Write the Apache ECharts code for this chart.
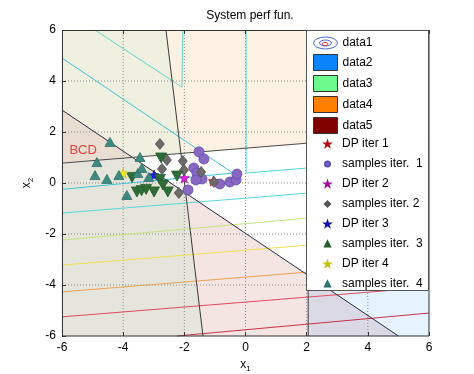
<!DOCTYPE html>
<html><head><meta charset="utf-8">
<script src="https://cdn.jsdelivr.net/npm/echarts@6/dist/echarts.min.js"></script>
<style>html,body{margin:0;padding:0;background:#fff}#c{width:474px;height:374px}</style>
</head><body><div id="c"></div>
<script>
// ---- axes ----
const xTicks = [-6, -4, -2, 0, 2, 4, 6];
const yTicks = [-6, -4, -2, 0, 2, 4, 6];

// ---- shaded regions (vertices in data units) ----
const regionTopLeft    = [[-6, 6], [-2.60, 6], [-2.11, 1.16], [-3.695, 1.005], [-6, 2.86]];
const regionBCD        = [[-6, 2.86], [-3.695, 1.005], [-6, 0.78]];
const regionLowerLeft  = [[-6, 0.78], [-3.695, 1.005], [-1.955, -0.40], [-1.39, -6], [-6, -6]];
const regionTopRight   = [[-2.60, 6], [6, 6], [6, 1.95], [-2.11, 1.16]];
const regionLowerRight = [[-1.955, -0.40], [5.0, -6], [-1.39, -6]];
const regionRightBand  = [[2.05, 6], [6, 6], [6, -6], [2.05, -6]];

// ---- region boundary lines ----
const boundaryA = [[-2.60, 6], [-1.39, -6]];
const boundaryB = [[-6, 2.86], [5.0, -6]];
const boundaryC = [[-6, 0.78], [6, 1.95]];
const boundaryD = [[2.05, 6], [2.05, -6]];

// ---- contour lines (data1) ----
const contourInner   = [[-6, 4.9], [-0.41, 0.39], [-6, -0.25]];
const contourTopLeft = [[-4.92, 6], [-2.08, 3.76], [-2.05, 6]];
const contourRight   = [[0.02, 6], [0.02, 0.39], [6, 0.98]];
const contourCyanLow = [[-6, -1.18], [6, -0.01]];
const contourGreen   = [[-6, -2.24], [6, -0.95]];
const contourYellow  = [[-6, -3.22], [6, -2.05]];
const contourOrange  = [[-6, -4.27], [6, -3.11]];
const contourRed     = [[-6, -5.25], [6, -4.09]];
const contourDarkRed = [[-2.24, -6], [6, -5.10]];

// ---- iterations ----
const dpIter1 = [[-1.05, 0.08]];
const samplesIter1 = [[-1.52, 1.22], [-1.36, 0.94], [-1.69, 0.59], [-1.59, 0.39], [-1.42, 0.16],
  [-1.62, 0.12], [-1.88, -0.27], [-0.84, -0.04], [-0.51, 0.04], [-0.31, 0.12], [-0.28, 0.35]];
const dpIter2 = [[-2.0, 0.2]];
const samplesIter2 = [[-2.80, 1.53], [-2.57, 0.90], [-2.73, 0.55], [-2.05, 0.86], [-2.01, 0.51],
  [-2.18, -0.39], [-1.45, 0.43], [-1.03, 0.04]];
const dpIter3 = [[-2.99, 0.31]];
const samplesIter3 = [[-2.76, 0.98], [-3.71, 0.22], [-3.55, -0.35], [-3.40, -0.30], [-3.25, -0.25],
  [-2.99, -0.35], [-2.80, 0.14], [-2.70, -0.08], [-2.54, -0.35], [-2.24, 0.27]];
const dpIter4 = [[-4.0, 0.38]];
const samplesIter4 = [[-4.43, 1.61], [-4.86, 0.82], [-4.92, 0.31], [-4.53, 0.16], [-4.14, 0.31],
  [-3.52, 0.39], [-3.39, 0.59], [-3.45, 1.02], [-3.88, -0.47], [-3.16, 0.24]];

const annotation = [[-5.31, 1.29]];
const annotationText = 'BCD';

// ------------------------------------------------------------------
const FONT = '"Liberation Sans", Arial, Helvetica, sans-serif';
const STAR = 'path://M0,-10L2.35,-3.24L9.51,-3.09L3.8,1.24L5.88,8.09L0,4L-5.88,8.09L-3.8,1.24L-9.51,-3.09L-2.35,-3.24Z';
const ELLIPSE = 'path://M0,6a12,6 0 1,0 24,0a12,6 0 1,0 -24,0z M6,6a6,3 0 1,0 12,0a6,3 0 1,0 -12,0z';
const xMin = xTicks[0], xMax = xTicks[xTicks.length - 1];
const yMin = yTicks[0], yMax = yTicks[yTicks.length - 1];

// grid lines built from the tick arrays
const gridLines = []
  .concat(xTicks.slice(1, -1).map(v => [[v, yMin], [v, yMax]]))
  .concat(yTicks.slice(1, -1).map(v => [[xMin, v], [xMax, v]]));

function polySeries(name, polys, fills, z) {
  return {
    type: 'custom', name, coordinateSystem: 'cartesian2d', z, silent: true, animation: false,
    data: polys.map((p, i) => [i, 0]),
    renderItem: (params, api) => {
      const i = api.value(0);
      return { type: 'polygon', shape: { points: polys[i].map(pt => api.coord(pt)) },
               style: { fill: fills[i], stroke: fills[i], lineWidth: 0.5 } };
    }
  };
}
function lineSeries(name, lines, colors, width, z, dash) {
  return {
    type: 'custom', name, coordinateSystem: 'cartesian2d', z, silent: true, animation: false,
    data: lines.map((p, i) => [i, 0]),
    renderItem: (params, api) => {
      const i = api.value(0);
      const st = { stroke: colors[i % colors.length], lineWidth: width, fill: null };
      if (dash) st.lineDash = dash;
      return { type: 'polyline', shape: { points: lines[i].map(pt => api.coord(pt)) }, style: st };
    }
  };
}
function scatter(name, data, symbol, size, color, border, rotate) {
  return {
    type: 'scatter', name, data, symbol, symbolSize: size, symbolRotate: rotate || 0, z: 4,
    itemStyle: { color, borderColor: border, borderWidth: 0.8, opacity: 1 },
    silent: true, animation: false
  };
}
const tickStyle = { show: true, inside: true, length: 4, lineStyle: { color: '#333' } };
const nameRich = (sub) => ({
  color: '#000', fontFamily: FONT,
  rich: { a: { fontSize: 12, fontFamily: FONT, color: '#000' },
          b: { fontSize: 8, fontFamily: FONT, color: '#000', padding: [8, 0, 0, 0] } }
});

const option = {
  animation: false,
  backgroundColor: '#fff',
  title: { text: 'System perf fun.', left: 245, top: 5, textAlign: 'center',
    textStyle: { fontFamily: FONT, fontSize: 12, fontWeight: 'normal', color: '#000' } },
  grid: { left: 62, right: 45, top: 30, bottom: 38, containLabel: false, outerBoundsMode: 'none', show: false },
  xAxis: [
    { type: 'value', z: 3, min: xMin, max: xMax, interval: xTicks[1] - xTicks[0], position: 'bottom',
      axisLine: { show: false, onZero: false }, axisTick: tickStyle,
      axisLabel: { color: '#000', fontSize: 12, margin: 6, fontFamily: FONT },
      splitLine: { show: false },
      name: '{a|x}{b|1}', nameLocation: 'middle', nameGap: 16, nameTextStyle: nameRich() },
    { type: 'value', z: 3, min: xMin, max: xMax, interval: xTicks[1] - xTicks[0], position: 'top',
      axisLine: { show: false, onZero: false }, axisTick: tickStyle,
      axisLabel: { show: false }, splitLine: { show: false } }
  ],
  yAxis: [
    { type: 'value', z: 3, min: yMin, max: yMax, interval: yTicks[1] - yTicks[0], position: 'left',
      axisLine: { show: false, onZero: false }, axisTick: tickStyle,
      axisLabel: { color: '#000', fontSize: 12, margin: 6, fontFamily: FONT },
      splitLine: { show: false },
      name: '{a|x}{b|2}', nameLocation: 'middle', nameGap: 22, nameRotate: 90, nameTextStyle: nameRich() }
  ],
  legend: [
    {
      orient: 'vertical', left: 313, top: 36, itemWidth: 24, itemHeight: 16, itemGap: 4, z: 6,
      selectedMode: false, padding: 0,
      textStyle: { fontFamily: FONT, fontSize: 12, color: '#000', lineHeight: 14 },
      data: [
        { name: 'data1', icon: ELLIPSE, itemStyle: { color: 'rgba(0,0,0,0)', borderColor: '#4a6ad0', borderWidth: 1 } },
        { name: 'data2', icon: 'rect', itemStyle: { color: '#0a84f8', borderColor: '#333', borderWidth: 1, opacity: 1 } },
        { name: 'data3', icon: 'rect', itemStyle: { color: '#6cfa8c', borderColor: '#333', borderWidth: 1, opacity: 1 } },
        { name: 'data4', icon: 'rect', itemStyle: { color: '#ff8000', borderColor: '#333', borderWidth: 1, opacity: 1 } },
        { name: 'data5', icon: 'rect', itemStyle: { color: '#800000', borderColor: '#333', borderWidth: 1, opacity: 1 } }
      ]
    },
    {
      orient: 'vertical', left: 324, top: 136, itemWidth: 5, itemHeight: 5, itemGap: 4, z: 6,
      selectedMode: false, padding: 0,
      textStyle: { fontFamily: FONT, fontSize: 12, color: '#000', lineHeight: 16, padding: [0, 0, 0, 7] },
      data: ['DP iter 1', 'samples iter.  1', 'DP iter 2', 'samples iter. 2', 'DP iter 3',
             'samples iter.  3', 'DP iter 4', 'samples iter.  4']
    }
  ],
  graphic: [
    { type: 'rect', z: 4, silent: true, shape: { x: 62.5, y: 30.5, width: 366.5, height: 305.5 },
      style: { fill: 'none', stroke: '#333', lineWidth: 1 } },
    { type: 'rect', z: 5, silent: true, shape: { x: 306.5, y: 30.5, width: 122, height: 260 },
      style: { fill: '#fff', stroke: '#555', lineWidth: 1 } },
    { type: 'ellipse', z: 7, silent: true, shape: { cx: 325, cy: 44, rx: 3, ry: 1.5 },
      style: { fill: 'none', stroke: '#e03030', lineWidth: 1 } }
  ],
  series: [
    polySeries('data3', [regionTopLeft, regionBCD, regionLowerLeft], ['#eff0e0', '#eaded2', '#e6e5db'], 1),
    polySeries('data4', [regionTopRight], ['#fdf1e4'], 1),
    polySeries('data5', [regionLowerRight], ['#f4e4e2'], 1),
    polySeries('data2', [regionRightBand], ['rgba(0,128,255,0.1)'], 1),
    lineSeries('gridLines', gridLines, ['#8a8a8a'], 1, 2, [1, 2]),
    lineSeries('data1',
      [contourInner, contourTopLeft, contourRight, contourCyanLow, contourGreen, contourYellow, contourOrange, contourRed, contourDarkRed],
      ['#3fc4da', '#62d8cc', '#52d4dc', '#5ad6e0', '#c6e47e', '#f2e052', '#f2a052', '#e24a5c', '#c83444'], 1, 3),
    lineSeries('boundaries', [boundaryA, boundaryB, boundaryC, boundaryD],
      ['#3a3a3a', '#2c2c48', '#4a4a4a', '#3a3a46'], 1, 3),
    scatter('DP iter 1', dpIter1, STAR, 10, '#e8201c', '#b01010'),
    scatter('samples iter.  1', samplesIter1, 'circle', 10, '#8a68c0', '#5a4ab4'),
    scatter('DP iter 2', dpIter2, STAR, 10, '#e020e0', '#a010a0'),
    scatter('samples iter. 2', samplesIter2, 'diamond', [9, 11], '#6e6a6a', '#505050'),
    scatter('DP iter 3', dpIter3, STAR, 10, '#1a1aff', '#1010a0'),
    scatter('samples iter.  3', samplesIter3, 'triangle', [11, 10], '#2f6d36', '#225a2a', 180),
    scatter('DP iter 4', dpIter4, STAR, 10, '#f2ee20', '#c8c010'),
    scatter('samples iter.  4', samplesIter4, 'triangle', [10, 9], '#3f8a80', '#2f6f68'),
    {
      type: 'scatter', name: 'annotation', data: annotation, symbolSize: 0, z: 4, silent: true,
      label: { show: true, position: 'inside', formatter: annotationText, color: '#e8141c',
        fontSize: 13, fontFamily: FONT }
    }
  ]
};

const chart = echarts.init(document.getElementById('c'), null, { renderer: 'canvas' });
chart.setOption(option);
</script></body></html>
